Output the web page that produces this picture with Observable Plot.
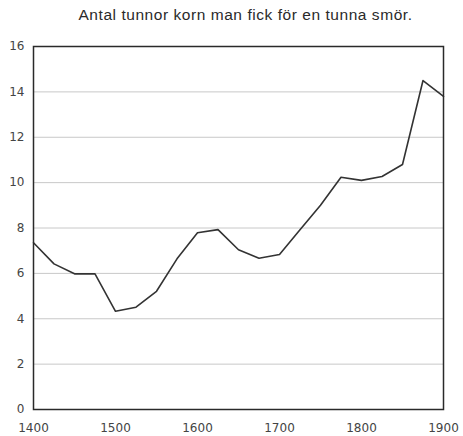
<!DOCTYPE html>
<html>
<head>
<meta charset="utf-8">
<script src="https://cdn.jsdelivr.net/npm/d3@7"></script>
<script src="https://cdn.jsdelivr.net/npm/@observablehq/plot@0.6"></script>
<style>
  html, body { margin: 0; padding: 0; background: #fff; }
  #title { height: 30px; width: 435px; padding-left: 28px; text-align: center; font-family: "Liberation Sans", Arial, sans-serif; font-size: 15.5px; letter-spacing: 0.55px; color: #2a2a2a; line-height: 30px; }
</style>
</head>
<body>
<div id="title">Antal tunnor korn man fick för en tunna smör.</div>
<div id="chart"></div>
<script>
const years = [1400, 1425, 1450, 1475, 1500, 1525, 1550, 1575, 1600, 1625, 1650, 1675, 1700, 1725, 1750, 1775, 1800, 1825, 1850, 1875, 1900];
const values = [7.35, 6.42, 5.98, 5.98, 4.33, 4.51, 5.21, 6.64, 7.79, 7.93, 7.04, 6.67, 6.83, 7.92, 9.0, 10.24, 10.1, 10.27, 10.8, 14.5, 13.8];
const xTicks = [1400, 1500, 1600, 1700, 1800, 1900];
const yTicks = [0, 2, 4, 6, 8, 10, 12, 14, 16];
const gridValues = [2, 4, 6, 8, 10, 12, 14];

const data = years.map((y, i) => ({year: y, value: values[i]}));

const chart = Plot.plot({
  width: 463,
  height: 406,
  marginTop: 16,
  marginBottom: 27,
  marginLeft: 33,
  marginRight: 20,
  style: {fontFamily: "'DejaVu Sans', sans-serif", fontSize: "12px", color: "#444", background: "#fff"},
  x: {domain: [1400, 1900], ticks: xTicks, tickFormat: d => String(d), tickSize: 0, tickPadding: 14, label: null},
  y: {domain: [0, 16], ticks: yTicks, tickSize: 0, tickPadding: 9, label: null},
  marks: [
    Plot.ruleY(gridValues, {stroke: "#c8c8c8", strokeWidth: 1}),
    Plot.line(data, {x: "year", y: "value", stroke: "#333", strokeWidth: 1.6}),
    Plot.frame({stroke: "#2a2a2a", strokeWidth: 1.5})
  ]
});
document.getElementById("chart").appendChild(chart);
</script>
</body>
</html>
